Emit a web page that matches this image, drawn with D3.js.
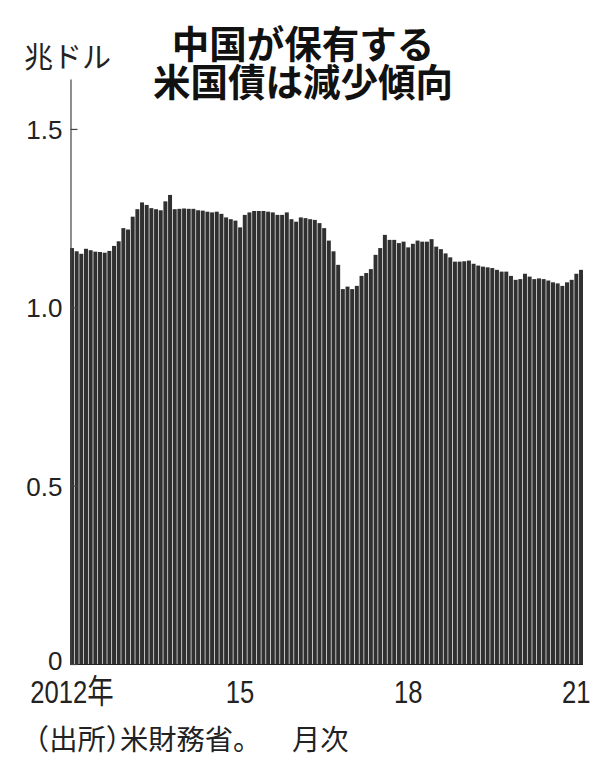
<!DOCTYPE html>
<html>
<head>
<meta charset="utf-8">
<script src="https://cdn.jsdelivr.net/npm/d3@7"></script>
<style>
  html, body { margin: 0; padding: 0; background: #ffffff; }
  svg { display: block; }
  .halt { font-feature-settings: "halt" 1; }
</style>
</head>
<body>
<svg id="chart" width="595" height="758"></svg>
<script>
// ---- Data (China's holdings of US Treasuries, trillion USD, monthly Jan 2012 - Feb 2021)
const startYear = 2012;
const values = [
  1.166, 1.157, 1.150, 1.164, 1.160, 1.156, 1.155, 1.153, 1.158, 1.172, 1.185, 1.222,
  1.218, 1.254, 1.275, 1.294, 1.287, 1.278, 1.275, 1.272, 1.297, 1.315, 1.275, 1.276,
  1.277, 1.276, 1.276, 1.272, 1.271, 1.268, 1.266, 1.268, 1.262, 1.252, 1.247, 1.243,
  1.224, 1.259, 1.266, 1.270, 1.270, 1.270, 1.268, 1.266, 1.259, 1.259, 1.266, 1.247,
  1.240, 1.252, 1.250, 1.247, 1.245, 1.236, 1.222, 1.187, 1.157, 1.119, 1.051, 1.058,
  1.051, 1.060, 1.088, 1.096, 1.107, 1.147, 1.166, 1.203, 1.189, 1.189, 1.180, 1.184,
  1.168, 1.178, 1.187, 1.184, 1.184, 1.191, 1.170, 1.163, 1.151, 1.140, 1.128, 1.128,
  1.129, 1.131, 1.122, 1.117, 1.114, 1.112, 1.110, 1.105, 1.100, 1.100, 1.088, 1.077,
  1.079, 1.094, 1.086, 1.079, 1.081, 1.079, 1.075, 1.070, 1.067, 1.060, 1.070, 1.077,
  1.094, 1.105
];
const months = values.map((v, i) => `${startYear + Math.floor(i / 12)}-${String(i % 12 + 1).padStart(2, "0")}`);
const xTickMonths = ["2012-01", "2015-01", "2018-01", "2021-01"];
const xTickLabels = ["2012年", "15", "18", "21"];
const yTickValues = [0, 0.5, 1.0, 1.5];
const yTickLabels = ["0", "0.5", "1.0", "1.5"];
const titleLines = ["中国が保有する", "米国債は減少傾向"];
const unitLabel = "兆ドル";
const sourceMain = ["（", "出所", "）", "米財務省。"];
const sourceTail = "月次";

// ---- Layout
const svg = d3.select("#chart");
const left = 70, right = 583, baseY = 664, topY = 79;
const yMax = 1.64;

const x = d3.scaleBand().domain(months).range([left, right]).paddingInner(0.15).paddingOuter(0);
const y = d3.scaleLinear().domain([0, yMax]).range([baseY, topY]);

const latin = "'Liberation Sans', Arial, 'DejaVu Sans', sans-serif";
const cjk = "'Noto Sans CJK JP', 'Noto Sans CJK SC', sans-serif";

// Title
svg.append("g").selectAll("text").data(titleLines).join("text")
  .attr("x", 303)
  .attr("y", (d, i) => 57.5 + i * 38)
  .attr("text-anchor", "middle")
  .attr("font-family", cjk)
  .attr("font-weight", 700)
  .attr("font-size", 37.5)
  .attr("fill", "#111")
  .text(d => d);

// Unit
svg.append("text")
  .attr("x", 24).attr("y", 67.5)
  .attr("font-family", cjk)
  .attr("font-size", 29)
  .attr("fill", "#222")
  .text(unitLabel);

// Bars
svg.append("g").selectAll("rect").data(values).join("rect")
  .attr("x", (d, i) => x(months[i]))
  .attr("width", x.bandwidth())
  .attr("y", d => y(d))
  .attr("height", d => baseY - y(d))
  .attr("fill", "#303030");

// Baseline
svg.append("line")
  .attr("x1", left).attr("x2", right)
  .attr("y1", baseY + 0.5).attr("y2", baseY + 0.5)
  .attr("stroke", "#222").attr("stroke-width", 1);

// Y axis
const yAxis = d3.axisLeft(y)
  .tickValues(yTickValues)
  .tickFormat((d, i) => yTickLabels[i])
  .tickSizeInner(-7)
  .tickSizeOuter(0)
  .tickPadding(8);
const gy = svg.append("g").attr("transform", `translate(${left + 0.5},0)`).call(yAxis);
gy.select(".domain").attr("stroke", "#444").attr("stroke-width", 1.2);
gy.selectAll(".tick line").attr("stroke", "#444").attr("stroke-width", 1.2);
gy.selectAll(".tick text")
  .attr("font-family", latin)
  .attr("font-size", 26)
  .attr("fill", "#222")
  .attr("dy", d => d === 0 ? "0.22em" : "0.36em");

// X tick labels (condensed)
const gx = svg.append("g");
xTickMonths.forEach((m, i) => {
  const cx = x(m) + x.bandwidth() / 2;
  const t = gx.append("text")
    .attr("transform", `translate(${cx},703) scale(0.8,1)`)
    .attr("text-anchor", "middle")
    .attr("font-family", latin)
    .attr("font-size", 32)
    .attr("fill", "#222");
  const lab = xTickLabels[i];
  const digits = lab.replace("年", "");
  t.append("tspan").text(digits);
  if (lab.includes("年")) {
    t.append("tspan").attr("font-family", cjk).attr("font-size", 33).text("年");
  }
});

// Source
const src = svg.append("text")
  .attr("x", 35).attr("y", 750)
  .attr("font-family", cjk)
  .attr("font-size", 28.3)
  .attr("fill", "#222");
sourceMain.forEach(s => {
  const ts = src.append("tspan").text(s);
  if (s === "（" || s === "）") ts.attr("class", "halt");
});
svg.append("text")
  .attr("x", 292).attr("y", 750)
  .attr("font-family", cjk)
  .attr("font-size", 28.3)
  .attr("fill", "#222")
  .text(sourceTail);
</script>
</body>
</html>
